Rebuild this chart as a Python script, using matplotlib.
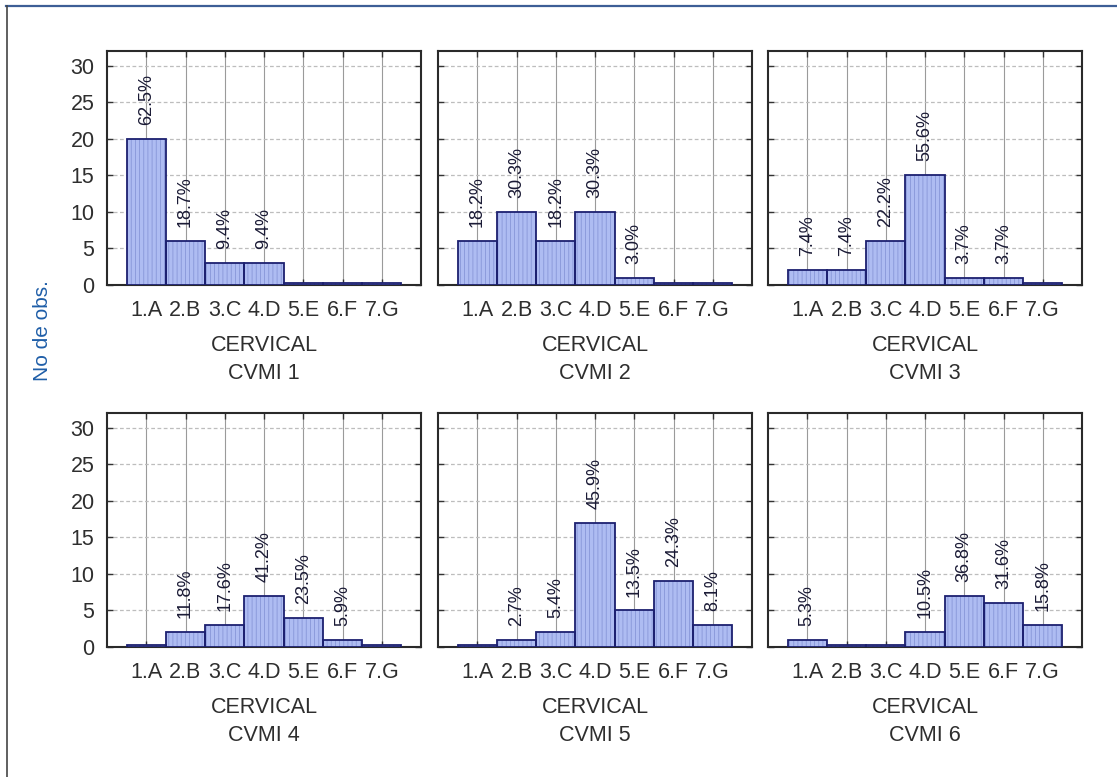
import matplotlib
matplotlib.use("Agg")
import matplotlib.pyplot as plt
from matplotlib import font_manager
from matplotlib.lines import Line2D
import numpy as np

# Cervical maturation stage categories
categories = ["1.A", "2.B", "3.C", "4.D", "5.E", "6.F", "7.G"]
panel_titles = ["CVMI 1", "CVMI 2", "CVMI 3", "CVMI 4", "CVMI 5", "CVMI 6"]

# Observation counts per stage, one list per CVMI group
cvmi1 = [20, 6, 3, 3, 0, 0, 0]
cvmi2 = [6, 10, 6, 10, 1, 0, 0]
cvmi3 = [2, 2, 6, 15, 1, 1, 0]
cvmi4 = [0, 2, 3, 7, 4, 1, 0]
cvmi5 = [0, 1, 2, 17, 5, 9, 3]
cvmi6 = [1, 0, 0, 2, 7, 6, 3]

# Percentages printed above the bars (None = no label)
pct1 = [62.5, 18.7, 9.4, 9.4, None, None, None]
pct2 = [18.2, 30.3, 18.2, 30.3, 3.0, None, None]
pct3 = [7.4, 7.4, 22.2, 55.6, 3.7, 3.7, None]
pct4 = [None, 11.8, 17.6, 41.2, 23.5, 5.9, None]
pct5 = [None, 2.7, 5.4, 45.9, 13.5, 24.3, 8.1]
pct6 = [5.3, None, None, 10.5, 36.8, 31.6, 15.8]

yticks = [0, 5, 10, 15, 20, 25, 30]

counts = [cvmi1, cvmi2, cvmi3, cvmi4, cvmi5, cvmi6]
pcts = [pct1, pct2, pct3, pct4, pct5, pct6]

installed = {f.name for f in font_manager.fontManager.ttflist}
narrow = "Liberation Sans Narrow" if "Liberation Sans Narrow" in installed else "Liberation Sans"
plt.rcParams["font.family"] = [narrow, "DejaVu Sans"]
plt.rcParams["hatch.linewidth"] = 0.6

W, H = 1117, 777
fig = plt.figure(figsize=(W / 100, H / 100), dpi=100)

col_left = [107, 438, 768]
row_top = [51, 413]
ax_w, ax_h = 314, 234

face = "#aebcf2"
hatch_col = "#8796d8"
edge = "#1c2070"
text_col = "#2e2e2e"
zero_height = 0.28

x = np.arange(1, len(categories) + 1)

for i, (vals, pc, title) in enumerate(zip(counts, pcts, panel_titles)):
    r, c = divmod(i, 3)
    left = col_left[c] / W
    bottom = 1 - (row_top[r] + ax_h) / H
    ax = fig.add_axes([left, bottom, ax_w / W, ax_h / H])

    heights = [v if v > 0 else zero_height for v in vals]
    ax.bar(x, heights, width=1.0, color=face, edgecolor=hatch_col,
           linewidth=0, hatch="||||", zorder=3)
    ax.bar(x, heights, width=1.0, color="none", edgecolor=edge,
           linewidth=1.3, zorder=4)

    for xi, v, p in zip(x, vals, pc):
        if p is None:
            continue
        ax.annotate(f"{p:.1f}%", xy=(xi, v), xytext=(0, 10),
                    textcoords="offset points", rotation=90,
                    ha="center", va="bottom", fontsize=13,
                    color="#1a1a35", zorder=5)

    ax.set_xlim(0, 8)
    ax.set_ylim(0, 32)
    ax.set_xticks(x)
    ax.set_xticklabels(categories)
    ax.set_yticks(yticks)
    if c == 0:
        ax.set_yticklabels([str(t) for t in yticks])
    else:
        ax.set_yticklabels([])

    ax.tick_params(axis="both", direction="in", top=True, right=True,
                   length=4, width=1.0, color="#333333",
                   labelsize=15.5, labelcolor=text_col)
    ax.tick_params(axis="x", pad=11)
    ax.tick_params(axis="y", pad=9)

    ax.xaxis.grid(True, color="#9a9a9a", linewidth=0.8, linestyle="-", zorder=0)
    ax.yaxis.grid(True, color="#bdbdbd", linewidth=0.9, linestyle=(0, (3, 2)), zorder=0)
    ax.set_axisbelow(True)

    for s in ax.spines.values():
        s.set_linewidth(1.5)
        s.set_color("#2a2a2a")

    ax.set_xlabel(f"CERVICAL\n{title}", fontsize=15.5, color=text_col,
                  labelpad=10, linespacing=1.45)

fig.text(42 / W, 1 - 331 / H, "No de obs.", rotation=90, ha="center",
         va="center", fontsize=15, color="#1f5ea8",
         family=["Liberation Sans", "DejaVu Sans"])

# page frame
fig.add_artist(Line2D([6 / W, 1.0], [1 - 6 / H, 1 - 6 / H], transform=fig.transFigure,
                      color="#3d5e96", linewidth=1.6))
fig.add_artist(Line2D([7 / W, 7 / W], [0, 1 - 6 / H], transform=fig.transFigure,
                      color="#444444", linewidth=1.2))

fig.savefig("out.png", dpi=100)
